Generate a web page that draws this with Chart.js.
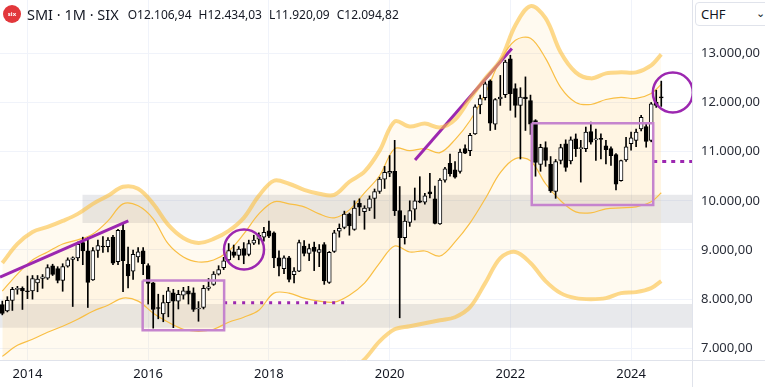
<!DOCTYPE html>
<html>
<head>
<meta charset="utf-8">
<script src="https://cdn.jsdelivr.net/npm/chart.js@4.4.1/dist/chart.umd.min.js"></script>
<style>
  html, body { margin: 0; padding: 0; background: #fff; }
  #wrap { position: relative; width: 765px; height: 387px; overflow: hidden; font-family: "Noto Sans", sans-serif; color: #131722; }
  #chart { position: absolute; left: 0; top: 0; }
  .legend { position: absolute; left: 3px; top: 4px; display: flex; align-items: center; white-space: nowrap; }
  .logo { width: 18px; height: 18px; border-radius: 50%; background: #e2373b; color: #fff; font-size: 6px; line-height: 18px; text-align: center; font-weight: bold; }
  .title { font-size: 14.5px; margin-left: 6px; }
  .ohlc { font-size: 12px; margin-left: 9px; }
  .ohlc span { margin-right: 7px; }
  .cur { position: absolute; left: 695px; top: 2px; width: 80px; height: 24px; border: 1px solid #e0e3eb; border-radius: 4px; box-sizing: border-box; font-size: 13px; line-height: 22px; padding-left: 5px; background: #fff; }
  .cur b { position: absolute; left: 60px; top: -1px; font-weight: normal; font-size: 11px; }
  .vline { position: absolute; left: 692px; top: 360px; width: 1px; height: 27px; background: #e0e3eb; }
  .hline { position: absolute; left: 692px; top: 360px; width: 73px; height: 1px; background: #e0e3eb; }
</style>
</head>
<body>
<div id="wrap">
  <canvas id="chart" width="765" height="387"></canvas>
  <div class="legend">
    <div class="logo">six</div>
    <div class="title">SMI · 1M · SIX</div>
    <div class="ohlc"><span>O12.106,94</span><span>H12.434,03</span><span>L11.920,09</span><span>C12.094,82</span></div>
  </div>
  <div class="cur">CHF<b>⌄</b></div>
  <div class="vline"></div>
  <div class="hline"></div>
</div>
<script>
// monthly candles, Aug 2013 .. Jul 2024 (index 0 = Aug 2013)
const opens = [7890, 7760, 7975, 8200, 8220, 8170, 8165, 8330, 8420, 8425, 8675, 8620, 8380, 8670, 8810, 8840, 9150, 8980, 8390, 8990,
  9080, 9065, 9260, 8760, 9400, 8710, 8570, 8860, 8980, 8680, 8330, 7830, 7700, 7930, 8130, 7960, 8080, 8170, 8130, 7800,
  7830, 8220, 8300, 8510, 8640, 8800, 8960, 8890, 9030, 8910, 9140, 9220, 9260, 9390, 9350, 8840, 8620, 8840, 8500, 8570,
  9080, 8930, 9060, 8950, 9110, 8340, 8970, 9380, 9460, 9730, 9420, 9950, 9780, 9850, 10050, 10190, 10440, 10560, 10600, 9800,
  9250, 9560, 9830, 10000, 9970, 10180, 10040, 9530, 10420, 10760, 10630, 10600, 11060, 11020, 11360, 11950, 12100, 12440, 11560, 12070,
  12160, 12890, 12280, 11940, 12110, 12040, 11630, 10740, 11080, 10740, 10190, 10820, 11160, 10810, 11260, 11060, 11060, 11410, 11240, 11260,
  11120, 11060, 10940, 10410, 10830, 11160, 11230, 11460, 11510, 11230, 12010, 12106.94];
const highs = [7960, 8050, 8240, 8260, 8250, 8470, 8480, 8480, 8500, 8700, 8710, 8660, 8720, 8840, 8860, 9160, 9260, 9250, 9050, 9200,
  9270, 9250, 9300, 9420, 9530, 9060, 9000, 9050, 9050, 8720, 8340, 8100, 8080, 8240, 8200, 8180, 8240, 8260, 8230, 7950,
  8280, 8420, 8560, 8680, 8850, 9130, 9100, 9070, 9150, 9200, 9300, 9350, 9460, 9590, 9370, 8980, 8880, 8870, 8640, 9200,
  9190, 9120, 9160, 9110, 9150, 8970, 9400, 9530, 9790, 9750, 10000, 10040, 9900, 10100, 10240, 10480, 10700, 10920, 11230, 10290,
  9700, 10000, 10260, 10490, 10150, 10560, 10300, 10450, 10680, 10950, 10800, 11050, 11140, 11370, 11950, 12150, 12420, 12460, 12080, 12550,
  12860, 12960, 12380, 12300, 12520, 12150, 11650, 11150, 11200, 10900, 10840, 11150, 11240, 11300, 11360, 11230, 11500, 11600, 11460, 11360,
  11230, 11100, 10960, 10830, 11290, 11400, 11460, 11740, 11560, 12000, 12250, 12434.03];
const lows = [7680, 7740, 7770, 8100, 7790, 8010, 8000, 8150, 8220, 8400, 8480, 8330, 8160, 8650, 7850, 8780, 8700, 7830, 8380, 8850,
  8950, 8960, 8700, 8700, 8150, 8230, 8400, 8750, 8500, 7900, 7410, 7600, 7540, 7640, 7420, 7800, 8000, 7900, 7750, 7550,
  7800, 8180, 8280, 8490, 8600, 8770, 8850, 8800, 8720, 8880, 9110, 9120, 9180, 9250, 8640, 8470, 8520, 8350, 8330, 8560,
  8880, 8780, 8580, 8660, 8300, 8320, 8950, 9260, 9430, 9300, 9400, 9700, 9420, 9800, 9640, 10150, 10250, 10490, 9700, 7620,
  9120, 9480, 9610, 9960, 9930, 10060, 9530, 9520, 10380, 10500, 10460, 10560, 10960, 10920, 11350, 11770, 12050, 11430, 11450, 11940,
  12100, 11840, 11700, 10850, 11430, 11350, 10500, 10600, 10700, 10170, 10050, 10750, 10600, 10750, 10900, 10380, 11000, 11150, 10820, 10850,
  10750, 10720, 10220, 10400, 10800, 11030, 11100, 11420, 11090, 11200, 11900, 11920.09];
const closes = [7710, 7975, 8200, 8215, 8165, 8150, 8420, 8410, 8455, 8640, 8505, 8380, 8660, 8800, 8840, 9115, 8980, 8340, 8990, 9090,
  9060, 9200, 8730, 9400, 8780, 8470, 8910, 8960, 8720, 8320, 7790, 7810, 7930, 8170, 7960, 8100, 8170, 8100, 7790, 7820,
  8220, 8250, 8510, 8600, 8780, 8990, 8890, 9020, 8890, 9130, 9200, 9300, 9360, 9280, 8840, 8670, 8840, 8400, 8570, 9150,
  8930, 9030, 8970, 9010, 8370, 8950, 9350, 9440, 9730, 9490, 9850, 9870, 9850, 10040, 10190, 10440, 10580, 10600, 9800, 9250,
  9590, 9800, 10000, 9970, 10100, 10140, 9540, 10420, 10650, 10550, 10480, 10990, 10970, 11330, 11910, 12080, 12380, 11580, 12060, 12110,
  12820, 12180, 11940, 12110, 12075, 11560, 10780, 11090, 10820, 10200, 10800, 11080, 10680, 11240, 11060, 11070, 11400, 11190, 11240, 11250,
  11040, 10920, 10340, 10820, 11100, 11280, 11400, 11700, 11210, 11970, 11940, 12094.82];

// x-axis ticks (month index of January) and their labels
const yearTicks = [5, 29, 53, 77, 101, 125];
const yearLabels = ['2014', '2016', '2018', '2020', '2022', '2024'];
const priceTicks = [7000, 8000, 9000, 10000, 11000, 12000, 13000];

// envelope bands, every 3 months
const bandIdx = [0, 3, 6, 9, 12, 15, 18, 21, 24, 27, 30, 33, 36, 39, 42, 45, 48, 51, 54, 57, 60, 63, 66, 69, 72, 75, 78, 81, 84, 87,
  90, 93, 96, 99, 102, 105, 108, 111, 114, 117, 120, 123, 126, 129, 131];
const thickUpper = [8734, 9122, 9367, 9469, 9591, 9734, 9938, 10102, 10285, 10245, 9938, 9510, 9245, 9143, 9224, 9387, 9653, 10102, 10408, 10347,
  10224, 10143, 10122, 10388, 10592, 11020, 11612, 11510, 11571, 11490, 11653, 12082, 12490, 12857, 13571, 13959, 13714, 13020, 12612, 12490,
  12592, 12612, 12612, 12755, 12980];
const thinUpper = [8163, 8510, 8796, 8959, 9122, 9204, 9326, 9592, 9938, 9898, 9632, 9122, 8857, 8755, 8796, 8979, 9326, 9734, 9979, 9938,
  9877, 9734, 9653, 9816, 10163, 10510, 11061, 11020, 11061, 10979, 11245, 11633, 12184, 12857, 13265, 13306, 12898, 12306, 12000, 11959,
  12061, 12102, 12082, 12184, 12367];
const thinLower = [6836, 7061, 7183, 7326, 7448, 7591, 7755, 7877, 8020, 7959, 7714, 7530, 7387, 7346, 7387, 7530, 7632, 7775, 8122, 8122,
  8020, 7959, 7938, 8081, 8326, 8734, 9081, 8959, 8979, 8877, 9163, 9551, 10041, 10571, 10857, 10816, 10347, 10000, 9775, 9755,
  9836, 9857, 9877, 9979, 10163];
const thickLower = [6350, 6400, 6450, 6500, 6550, 6600, 6620, 6600, 6500, 6400, 6200, 6000, 5900, 5850, 5900, 6000, 6100, 6250, 6400, 6450,
  6450, 6500, 6550, 6530, 6775, 7142, 7387, 7449, 7510, 7571, 7632, 7836, 8326, 8836, 8959, 8734, 8367, 8122, 8020, 7999,
  8020, 8122, 8142, 8224, 8367];

// drawings: support zones, trend lines, boxes, dotted levels, circles
const zoneUpper = { from: 15.9, to: 137.11, low: 9550, high: 10122 };
const zoneLower = { from: -0.46, to: 137.11, low: 7420, high: 7900 };
const trendA = [[-0.46, 8449], [25.05, 9592]];
const trendB = [[82.05, 10830], [101.3, 13096]];
const boxA = { x0: 27.9, x1: 44.1, y0: 7367, y1: 8381 };
const boxB = { x0: 105.25, x1: 129.4, y0: 9912, y1: 11577 };
const levelA = { x0: 44.1, x1: 69.1, y: 7924 };
const levelB = { x0: 129.4, x1: 137.11, y: 10800 };
const circleA = [48.05, 9010];
const circleB = [133.3, 12204];

const purple = '#9c27b0';
const lightPurple = '#c584ce';

const pts = (xs, ys) => xs.map((x, k) => ({ x: x, y: ys[k] }));
const boxPts = b => [{ x: b.x0, y: b.y1 }, { x: b.x1, y: b.y1 }, { x: b.x1, y: b.y0 }, { x: b.x0, y: b.y0 }, { x: b.x0, y: b.y1 }];

const idx = opens.map((_, i) => i);
const up = idx.map(i => closes[i] >= opens[i]);

function fmtPrice(v) {
  const th = Math.floor(v / 1000);
  const rest = String(Math.round(v % 1000)).padStart(3, '0');
  return th + '.' + rest + ',00';
}

// no label padding around the plot, the plot fills the canvas up to the axes
function noPad(s) {
  s.paddingTop = 0; s.paddingBottom = 0; s.paddingLeft = 0; s.paddingRight = 0;
}

const lineBase = { type: 'line', pointRadius: 0, fill: false, tension: 0 };

new Chart(document.getElementById('chart'), {
  type: 'bar',
  data: {
    datasets: [
      // thick envelope
      Object.assign({}, lineBase, {
        data: pts(bandIdx, thickUpper), borderColor: 'rgba(251,191,64,0.6)', borderWidth: 4, tension: 0.35,
        fill: '+1', backgroundColor: 'rgba(255,196,70,0.08)', order: -2
      }),
      Object.assign({}, lineBase, {
        data: pts(bandIdx, thickLower), borderColor: 'rgba(251,191,64,0.6)', borderWidth: 4, tension: 0.35, order: -2
      }),
      // drawings
      Object.assign({}, lineBase, { data: trendA.map(p => ({ x: p[0], y: p[1] })), borderColor: purple, borderWidth: 3, order: -1 }),
      Object.assign({}, lineBase, { data: trendB.map(p => ({ x: p[0], y: p[1] })), borderColor: purple, borderWidth: 3, order: -1 }),
      Object.assign({}, lineBase, { data: boxPts(boxA), borderColor: lightPurple, borderWidth: 2.5, order: -1 }),
      Object.assign({}, lineBase, { data: boxPts(boxB), borderColor: lightPurple, borderWidth: 2.5, order: -1 }),
      Object.assign({}, lineBase, {
        data: [{ x: levelA.x0, y: levelA.y }, { x: levelA.x1, y: levelA.y }], borderColor: purple, borderWidth: 3,
        borderDash: [3, 6], order: -1
      }),
      Object.assign({}, lineBase, {
        data: [{ x: levelB.x0, y: levelB.y }, { x: levelB.x1, y: levelB.y }], borderColor: purple, borderWidth: 3,
        borderDash: [4, 5], order: -1
      }),
      {
        type: 'line', showLine: false, data: [{ x: circleA[0], y: circleA[1] }, { x: circleB[0], y: circleB[1] }],
        pointRadius: 20, pointBorderColor: purple, pointBorderWidth: 2.5, pointBackgroundColor: 'rgba(0,0,0,0)', order: -1
      },
      // candles
      {
        data: idx.map(i => ({ x: i, y: [opens[i], closes[i]] })),
        backgroundColor: up.map(u => u ? '#ffffff' : '#000000'), borderColor: '#000000', borderWidth: 1,
        borderSkipped: false, barThickness: 4, minBarLength: 1, grouped: false, order: 0
      },
      {
        data: idx.map(i => ({ x: i, y: [lows[i], highs[i]] })),
        backgroundColor: '#000000', borderWidth: 0, barThickness: 1, grouped: false, order: 1
      },
      // thin envelope
      Object.assign({}, lineBase, {
        data: pts(bandIdx, thinUpper), borderColor: '#f9bf45', borderWidth: 1.2, tension: 0.35,
        fill: '+1', backgroundColor: 'rgba(255,190,60,0.07)', order: 2
      }),
      Object.assign({}, lineBase, { data: pts(bandIdx, thinLower), borderColor: '#f9bf45', borderWidth: 1.2, tension: 0.35, order: 2 }),
      // grey zones
      Object.assign({}, lineBase, {
        data: [{ x: zoneUpper.from, y: zoneUpper.high }, { x: zoneUpper.to, y: zoneUpper.high }], borderWidth: 0,
        fill: { value: zoneUpper.low }, backgroundColor: 'rgba(140,145,160,0.2)', order: 3
      }),
      Object.assign({}, lineBase, {
        data: [{ x: zoneLower.from, y: zoneLower.high }, { x: zoneLower.to, y: zoneLower.high }], borderWidth: 0,
        fill: { value: zoneLower.low }, backgroundColor: 'rgba(140,145,160,0.2)', order: 3
      })
    ]
  },
  options: {
    responsive: false,
    animation: false,
    events: [],
    layout: { padding: 0, autoPadding: false },
    plugins: {
      legend: { display: false },
      tooltip: { enabled: false },
      filler: { drawTime: 'beforeDatasetsDraw' }
    },
    scales: {
      x: {
        type: 'linear', min: -0.46, max: 137.11, offset: false,
        afterBuildTicks: s => { s.ticks = yearTicks.map(v => ({ value: v })); },
        afterFit: s => { s.height = 27; noPad(s); },
        grid: { color: '#f0f3fa', drawTicks: false, offset: false },
        border: { color: '#e0e3eb' },
        ticks: {
          callback: v => yearLabels[yearTicks.indexOf(v)],
          font: { family: 'Noto Sans', size: 13 }, color: '#131722', padding: 6, maxRotation: 0, autoSkip: false
        }
      },
      y: {
        type: 'linear', position: 'right', min: 6762, max: 14084,
        afterBuildTicks: s => { s.ticks = priceTicks.map(v => ({ value: v })); },
        afterFit: s => { s.width = 73; noPad(s); },
        grid: { color: '#f0f3fa', drawTicks: false },
        border: { color: '#e0e3eb' },
        ticks: { callback: v => fmtPrice(v), font: { family: 'Noto Sans', size: 13 }, color: '#2a2e39', padding: 9 }
      }
    }
  }
});
</script>
</body>
</html>
